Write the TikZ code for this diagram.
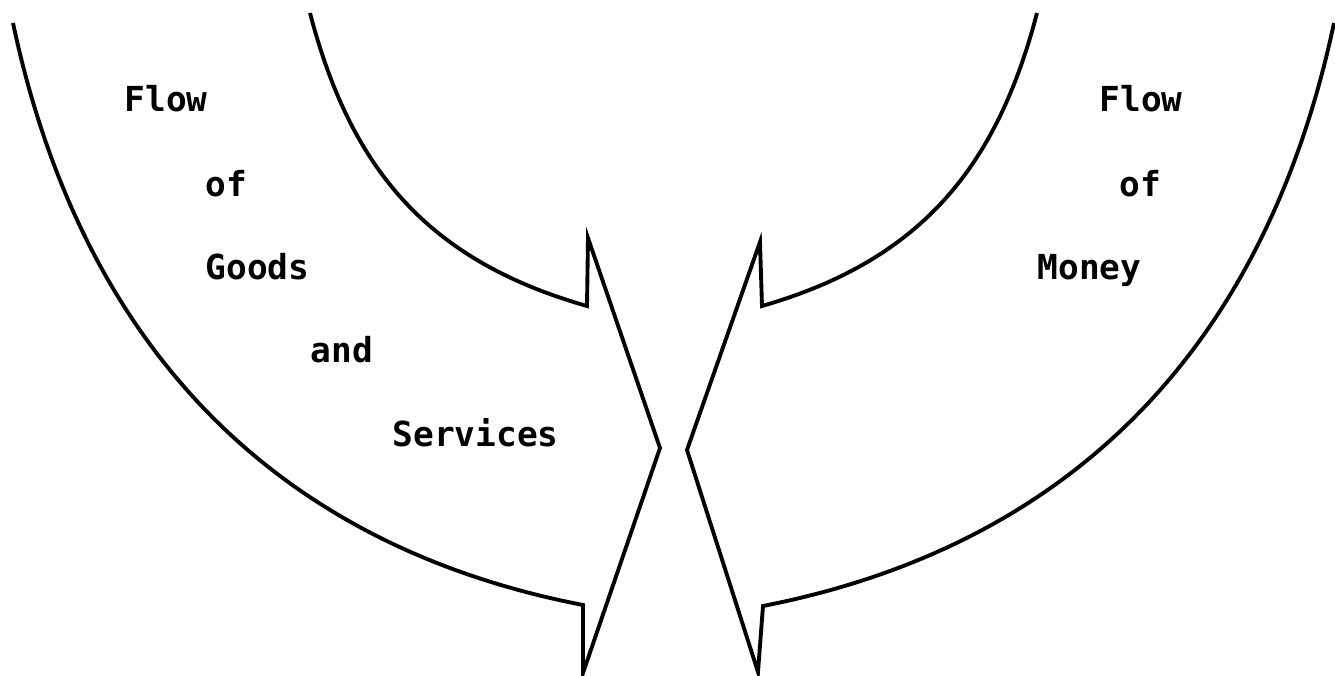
\documentclass[tikz,border=0pt]{standalone}
\usepackage{fontspec}
\setmonofont{DejaVu Sans Mono}
\usetikzlibrary{positioning}

\begin{document}
\begin{tikzpicture}[
          x=0.01cm, y=-0.01cm,
          flowline/.style={line width=1.1pt, line join=miter},
          flowtext/.style={anchor=base west, inner sep=0pt, font=\ttfamily\bfseries\fontsize{9.8}{12}\selectfont}
      ]
        \useasboundingbox (0,0) rectangle (1335,676);
        % left arrow: goods and services
        \coordinate (lin) at (310,13);
        \coordinate (lout) at (13,23);
        \coordinate (lnotchin) at (587,306);
        \coordinate (lbarbtop) at (588,238);
        \coordinate (ltip) at (660,448);
        \coordinate (lbarbbot) at (583,673);
        \coordinate (lnotchout) at (583,605);
        \draw[flowline] (lin) .. controls (350,166) and (425,260) .. (lnotchin)
          -- (lbarbtop) -- (ltip) -- (lbarbbot) -- (lnotchout)
          .. controls (268,544) and (80,339) .. (lout);
        % right arrow: money
        \coordinate (rin) at (1037,13);
        \coordinate (rout) at (1334,23);
        \coordinate (rnotchin) at (762,306);
        \coordinate (rbarbtop) at (760,242);
        \coordinate (rtip) at (687,450);
        \coordinate (rbarbbot) at (758,672);
        \coordinate (rnotchout) at (763,606);
        \draw[flowline] (rin) .. controls (997,166) and (922,260) .. (rnotchin)
          -- (rbarbtop) -- (rtip) -- (rbarbbot) -- (rnotchout)
          .. controls (1079,544) and (1267,339) .. (rout);
        % labels
        \node[flowtext] (gflow) at (124,112) {Flow};
        \node[flowtext] (gof) at (205,197) {of};
        \node[flowtext] (ggoods) at (205,280) {Goods};
        \node[flowtext] (gand) at (310,363) {and};
        \node[flowtext] (gserv) at (392,447) {Services};
        \node[flowtext] (mflow) at (1099,112) {Flow};
        \node[flowtext] (mof) at (1119,197) {of};
        \node[flowtext] (mmoney) at (1037,280) {Money};
      \end{tikzpicture}
\end{document}
